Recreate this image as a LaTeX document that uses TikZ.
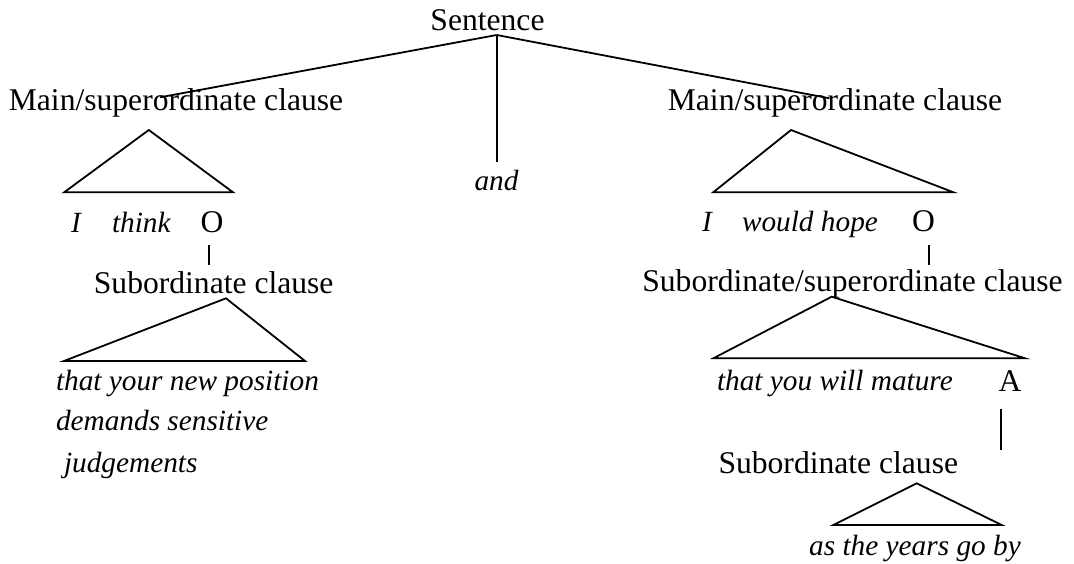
\documentclass[tikz,border=0pt]{standalone}
\usepackage{fontspec}
\setmainfont{Liberation Serif}
\begin{document}
\begin{tikzpicture}[x=1pt,y=-1pt,
  lbl/.style={inner sep=0pt,outer sep=0pt,font=\fontsize{31.6}{36}\selectfont},
  itl/.style={inner sep=0pt,outer sep=0pt,font=\fontsize{29.3}{34}\selectfont\itshape},
  ln/.style={line width=1.8pt},
  tri/.style={line width=1.8pt,line join=miter}]
\useasboundingbox (0,0) rectangle (1074,563);

% ---- texts ----
\node[lbl,anchor=base] (sent) at (487.5,30) {Sentence};
\node[lbl,anchor=base] (m1) at (176,110) {Main/superordinate clause};
\node[lbl,anchor=base] (m2) at (835,110) {Main/superordinate clause};
\node[itl,anchor=base] (and) at (496.5,190) {and};

\node[itl,anchor=base west] (i1) at (71,232.3) {I};
\node[itl,anchor=base west] (think) at (112,232.3) {think};
\node[lbl,anchor=base] (o1) at (212,232.3) {O};
\node[lbl,anchor=base] (s1) at (213.7,293.3) {Subordinate clause};
\node[itl,anchor=base west] (t1a) at (56,390) {that your new position};
\node[itl,anchor=base west] (t1b) at (56,430) {demands sensitive};
\node[itl,anchor=base west] (t1c) at (64,472.7) {judgements};

\node[itl,anchor=base west] (i2) at (702,231.7) {I};
\node[itl,anchor=base west] (wh) at (742,231.7) {would hope};
\node[lbl,anchor=base] (o2) at (923.5,231.7) {O};
\node[lbl,anchor=base] (ss) at (852.5,291.7) {Subordinate/superordinate clause};
\node[itl,anchor=base west] (t2) at (717,390) {that you will mature};
\node[lbl,anchor=base] (a) at (1010,391.7) {A};
\node[lbl,anchor=base] (s2) at (838.3,473.3) {Subordinate clause};
\node[itl,anchor=base] (t3) at (915,555) {as the years go by};

% ---- connector points ----
\coordinate (sent-j) at (496.7,35);
\coordinate (m1-t) at (160,97.3);
\coordinate (m2-t) at (829.5,98.3);
\coordinate (and-t) at (496.7,161.7);
\coordinate (o1-b) at (209,245);
\coordinate (s1-t) at (209,265);
\coordinate (o2-b) at (929,245);
\coordinate (ss-t) at (929,265);
\coordinate (a-b) at (1000.7,409.3);
\coordinate (s2-t) at (1000.7,450);

\draw[ln] (sent-j) -- (m1-t);
\draw[ln] (sent-j) -- (and-t);
\draw[ln] (sent-j) -- (m2-t);
\draw[ln] (o1-b) -- (s1-t);
\draw[ln] (o2-b) -- (ss-t);
\draw[ln] (a-b) -- (s2-t);

% ---- triangles ----
\coordinate (m1-a) at (148.8,130);
\coordinate (m1-l) at (64.2,192.3);
\coordinate (m1-r) at (233,192.3);
\draw[tri] (m1-a) -- (m1-l) -- (m1-r) -- cycle;

\coordinate (m2-a) at (791,130);
\coordinate (m2-l) at (713.2,192.3);
\coordinate (m2-r) at (953.5,192.3);
\draw[tri] (m2-a) -- (m2-l) -- (m2-r) -- cycle;

\coordinate (s1-a) at (226,298.3);
\coordinate (s1-l) at (64,361);
\coordinate (s1-r) at (305,361);
\draw[tri] (s1-a) -- (s1-l) -- (s1-r) -- cycle;

\coordinate (ss-a) at (831.7,296.7);
\coordinate (ss-l) at (713.3,358.3);
\coordinate (ss-r) at (1025,358.3);
\draw[tri] (ss-a) -- (ss-l) -- (ss-r) -- cycle;

\coordinate (s2-a) at (916.7,483.3);
\coordinate (s2-l) at (833.3,525);
\coordinate (s2-r) at (1001.7,525);
\draw[tri] (s2-a) -- (s2-l) -- (s2-r) -- cycle;
\end{tikzpicture}
\end{document}
